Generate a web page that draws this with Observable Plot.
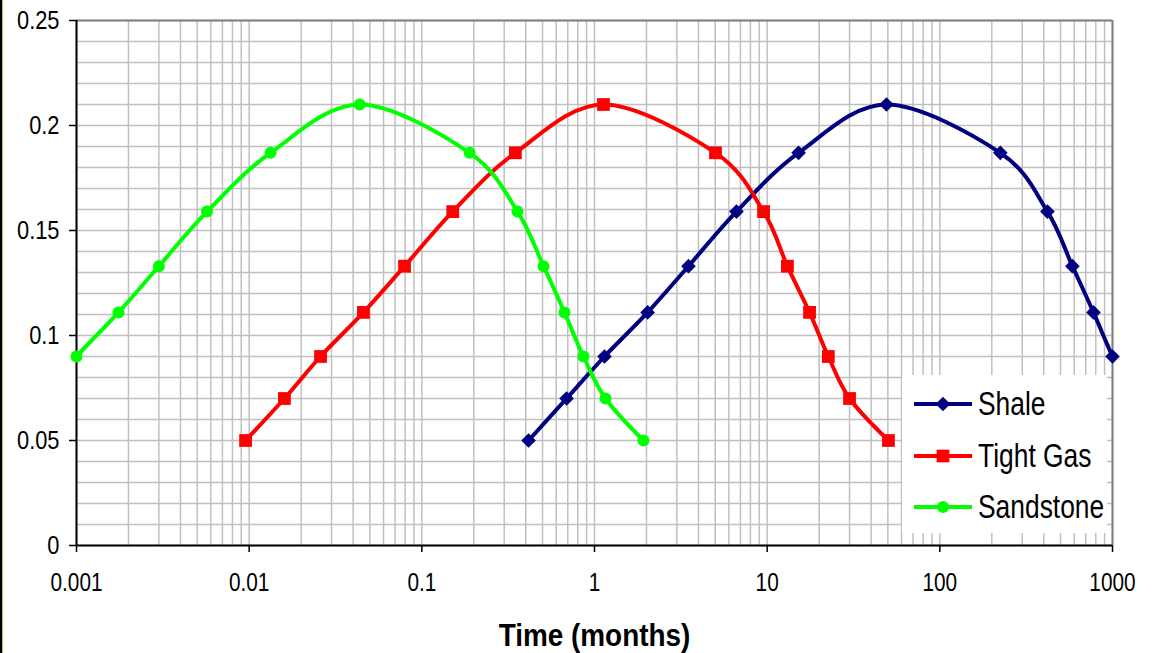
<!DOCTYPE html>
<html>
<head>
<meta charset="utf-8">
<script src="https://cdn.jsdelivr.net/npm/d3@7"></script>
<script src="https://cdn.jsdelivr.net/npm/@observablehq/plot@0.6"></script>
<style>
  html, body { margin: 0; padding: 0; background: #fff; }
  #wrap { position: relative; width: 1155px; height: 653px; overflow: hidden; }
  #edge { position: absolute; left: 0; top: 0; width: 2px; height: 653px; background: #000; border-right: 1px solid #9acd32; }
  #chart svg { font-family: "Liberation Sans", Arial, sans-serif; }
  #chart svg g[aria-label="x-axis label"] text { font-weight: bold; font-size: 31px; }
  #legend { position: absolute; left: 902px; top: 375px; width: 205px; height: 158px; background: #fff;
    font-family: "Liberation Sans", Arial, sans-serif; font-size: 33px; color: #000; }
  .item { position: absolute; left: 11px; height: 40px; display: flex; align-items: center; }
  .item svg { width: 60px; height: 20px; flex: none; }
  .item span { display: inline-block; margin-left: 5px; white-space: nowrap; transform: scaleX(0.8); transform-origin: left center; }
</style>
</head>
<body>
<div id="wrap">
  <div id="chart"></div>
  <div id="edge"></div>
  <div id="legend"></div>
</div>
<script>
// ---- Data ----
const seriesNames = ["Shale", "Tight Gas", "Sandstone"];
const seriesColors = ["#000080", "#ff0000", "#00ff00"];
const seriesSymbols = ["diamond2", "square", "circle"];

const sandstoneX = [0.00037, 0.00062, 0.001, 0.00175, 0.0030, 0.0057, 0.0133, 0.0436, 0.189, 0.358, 0.507, 0.670, 0.863, 1.158, 1.92];
const sandstoneY = [0.05, 0.07, 0.09, 0.111, 0.133, 0.159, 0.187, 0.21, 0.187, 0.159, 0.133, 0.111, 0.09, 0.07, 0.05];

const tightX = [0.00953, 0.0160, 0.0259, 0.0459, 0.0794, 0.151, 0.348, 1.127, 5.02, 9.53, 13.1, 17.6, 22.6, 30.0, 50.4];
const tightY = [0.05, 0.07, 0.09, 0.111, 0.133, 0.159, 0.187, 0.21, 0.187, 0.159, 0.133, 0.111, 0.09, 0.07, 0.05];

const shaleX = [0.415, 0.689, 1.143, 2.03, 3.50, 6.64, 15.2, 49.1, 224, 420, 586, 776, 1000, 1320, 2220];
const shaleY = [0.05, 0.07, 0.09, 0.111, 0.133, 0.159, 0.187, 0.21, 0.187, 0.159, 0.133, 0.111, 0.09, 0.07, 0.05];

const xTicks = [0.001, 0.01, 0.1, 1, 10, 100, 1000];
const xTickLabels = ["0.001", "0.01", "0.1", "1", "10", "100", "1000"];
const yTicks = [0, 0.05, 0.1, 0.15, 0.2, 0.25];
const yTickLabels = ["0", "0.05", "0.1", "0.15", "0.2", "0.25"];

// ---- Build table ----
const table = [];
[[shaleX, shaleY], [tightX, tightY], [sandstoneX, sandstoneY]].forEach(([xs, ys], i) => {
  xs.forEach((x, j) => table.push({series: seriesNames[i], x, y: ys[j]}));
});
const visible = table.filter(d => d.x >= 0.001 * 0.99 && d.x <= 1000 * 1.01);

// grid positions: every log minor step, every 0.01 in y
const gridX = [];
for (let e = -3; e <= 2; e++) for (let m = 1; m <= 9; m++) gridX.push(m * Math.pow(10, e));
gridX.push(1000);
const gridY = d3.range(0, 26).map(i => i / 100);

const markerR = [6.6, 7.2, 6.0];

const chart = Plot.plot({
  width: 1155,
  height: 653,
  marginLeft: 76,
  marginRight: 43,
  marginTop: 20,
  marginBottom: 108,
  style: {fontSize: "26px", background: "transparent", overflow: "visible"},
  x: {type: "log", domain: [0.001, 1000]},
  y: {domain: [0, 0.25]},
  color: {domain: seriesNames, range: seriesColors},
  marks: [
    Plot.ruleX(gridX, {stroke: "#c0c0c0", strokeWidth: 1.5}),
    Plot.ruleY(gridY, {stroke: "#c0c0c0", strokeWidth: 1.5}),
    Plot.ruleY([0.25], {stroke: "#808080", strokeWidth: 2}),
    Plot.ruleX([1000], {stroke: "#808080", strokeWidth: 2}),
    Plot.ruleX([0.001], {stroke: "#000", strokeWidth: 2}),
    Plot.ruleY([0], {stroke: "#000", strokeWidth: 2}),
    Plot.axisY({ticks: yTicks, tickSize: 7, tickPadding: 10,
      tickFormat: d => yTickLabels[yTicks.indexOf(d)], label: null, strokeWidth: 1.5}),
    Plot.axisX({ticks: xTicks, tickSize: 7, tickPadding: 20,
      tickFormat: d => xTickLabels[xTicks.findIndex(t => Math.abs(t - d) / t < 1e-6)],
      label: "Time (months)", labelAnchor: "center", labelArrow: "none", labelOffset: 100, strokeWidth: 1.5}),
    Plot.line(table, {x: "x", y: "y", z: "series", stroke: "series", strokeWidth: 4, curve: "cardinal", clip: true}),
    Plot.dot(visible.filter(d => d.series === "Shale"), {x: "x", y: "y", symbol: "diamond2", fill: seriesColors[0], r: markerR[0]}),
    Plot.dot(visible.filter(d => d.series === "Tight Gas"), {x: "x", y: "y", symbol: "square", fill: seriesColors[1], r: markerR[1]}),
    Plot.dot(visible.filter(d => d.series === "Sandstone"), {x: "x", y: "y", symbol: "circle", fill: seriesColors[2], r: markerR[2]})
  ]
});
document.getElementById("chart").appendChild(chart);

// narrow the text horizontally, as in the reference
function squeeze(sel, k) {
  chart.querySelectorAll(sel).forEach(t => {
    const w = t.getComputedTextLength();
    if (w > 0) { t.setAttribute("textLength", w * k); t.setAttribute("lengthAdjust", "spacingAndGlyphs"); }
  });
}
squeeze('g[aria-label="y-axis tick label"] text', 0.84);
squeeze('g[aria-label="x-axis tick label"] text', 0.8);
squeeze('g[aria-label="x-axis label"] text', 0.9);

// ---- Legend ----
const legend = document.getElementById("legend");
const tops = [9, 61, 112];
const symbolTypes = {diamond2: d3.symbolDiamond2, square: d3.symbolSquare, circle: d3.symbolCircle};
seriesNames.forEach((name, i) => {
  const item = document.createElement("div");
  item.className = "item";
  item.style.top = tops[i] + "px";
  const sym = d3.symbol(symbolTypes[seriesSymbols[i]], Math.PI * markerR[i] * markerR[i])();
  item.innerHTML = `<svg viewBox="0 0 60 20"><line x1="1" x2="59" y1="10" y2="10" stroke="${seriesColors[i]}" stroke-width="4"/>` +
    `<path d="${sym}" transform="translate(30,10)" fill="${seriesColors[i]}"/></svg><span>${name}</span>`;
  legend.appendChild(item);
});
</script>
</body>
</html>
